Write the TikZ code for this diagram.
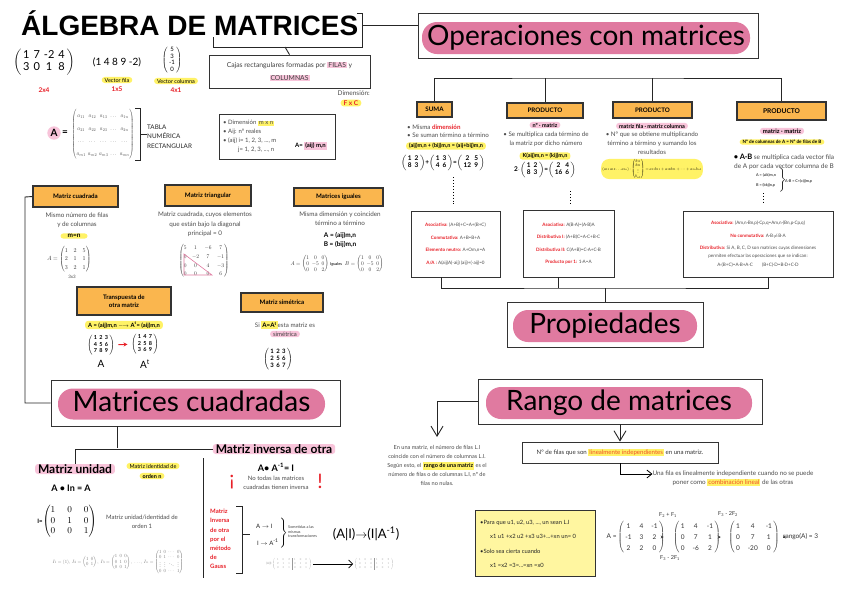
\documentclass[tikz,border=0pt]{standalone}
\usepackage{amsmath}
\usepackage{fontspec}
\setmainfont{Lato}
\newfontfamily\titlefont{Liberation Sans}
\usetikzlibrary{arrows.meta,positioning}

\definecolor{topicpink}{RGB}{224,122,160}
\definecolor{hipink}{RGB}{248,196,218}
\definecolor{hiyellow}{RGB}{255,242,102}
\definecolor{tagorange}{RGB}{250,182,78}
\definecolor{redtxt}{RGB}{232,32,40}
\definecolor{hlred}{RGB}{240,80,40}
\definecolor{noteyellow}{RGB}{255,246,160}

\newcommand\sz[2]{\fontsize{#1}{#2}\selectfont}
\newcommand\hly[1]{{\setlength\fboxsep{1pt}\colorbox{hiyellow}{#1}}}
\newcommand\hlp[1]{{\setlength\fboxsep{1pt}\colorbox{hipink}{#1}}}
\newcommand\lab[1]{\textcolor{redtxt}{\bfseries #1}}
\newcommand\tmat[3][2pt]{$\left(\,\setlength\tabcolsep{#1}\begin{tabular}{@{}#2@{}}#3\end{tabular}\,\right)$}
\newcommand\rbr[1]{$\left.\vrule height #1 depth #1 width 0pt\right\}$}

\tikzset{
  boxline/.style={draw=black!80, line width=0.8pt, fill=white, inner sep=2pt},
  topic/.style={fill=topicpink, rounded corners=15pt, font=\sz{28}{30},
    text height=20pt, text depth=6pt, inner sep=0pt},
  tag/.style={draw=black!80, line width=1.1pt, fill=tagorange, align=center,
    font=\bfseries\sz{6.2}{8}, inner sep=1pt},
  txt/.style={font=\sz{6.2}{8.8}, text=black!70, align=center, inner sep=0pt},
  hy/.style={fill=hiyellow, rounded corners=3pt, inner xsep=3pt, inner ysep=1pt},
  hp/.style={fill=hipink, rounded corners=3pt, inner xsep=3pt, inner ysep=1pt},
  lbl/.style={font=\bfseries\sz{6.5}{8}, text=redtxt, inner sep=0pt},
  prop/.style={boxline, align=center, font=\sz{4.6}{12.5}, text=black!70, inner sep=3pt},
  link/.style={draw=black!85, line width=0.9pt},
  bigarr/.style={draw=black!85, line width=0.9pt, -{Straight Barb[length=10pt,width=12pt]}},
  arr/.style={-{Straight Barb[length=5pt,width=8pt]}, line width=0.8pt},
  garr/.style={-{Stealth[length=3pt,width=3pt]}, line width=0.5pt, draw=black!75}
}

\begin{document}
\begin{tikzpicture}[x=1pt, y=-1pt]
  \useasboundingbox[fill=white] (0,0) rectangle (848,600);

  % title and definition
  \node[font=\titlefont\bfseries\sz{28}{30}, anchor=base west, inner sep=0pt] (title) at (21,35) {ÁLGEBRA DE MATRICES};
  \draw[link] (357,13) -- (362,13) -- (362,47) -- (213,47) -- (213,37);
  \coordinate (tbr) at (362,25);
  \coordinate (tbot) at (285,47);

  \node[boxline, minimum width=161, minimum height=33, align=center, font=\sz{6.8}{13}, text=black!75, inner sep=0pt] (cajas) at (289.5,71.5)
    {Cajas rectangulares formadas por \hlp{FILAS} y\\\hlp{COLUMNAS}};
  \draw[link] (tbot) -- (cajas.north);
  \node[txt, anchor=east, font=\sz{6.5}{8}] (dimlbl) at (370,93) {Dimensión:};
  \node[hy, text=redtxt, font=\bfseries\sz{6.5}{8}] (fxc) at (351,103) {F x C};

  \node[font=\sz{11}{12}] (m24) at (44,62) {\tmat{cccc}{1&7&-2&4\\3&0&1&8}};
  \node[lbl] (d24) at (44,90) {2x4};
  \node[font=\sz{10}{11}] (vf) at (117,62) {(1 4 8 9 -2)};
  \node[hy, font=\sz{5.5}{7}] (vfl) at (117,80) {Vector fila};
  \node[lbl, below=3pt of vfl] (d15) {1x5};
  \node[font=\sz{6}{6.5}] (vc) at (172,60) {\tmat{c}{5\\3\\-1\\0}};
  \node[hy, font=\sz{5.5}{7}] (vcl) at (176,81) {Vector columna};
  \node[lbl, below=3pt of vcl] (d41) {4x1};

  \node[circle, fill=hipink, inner sep=1.2pt, font=\bfseries\sz{10}{11}] (aname) at (54,133) {A};
  \node[font=\bfseries\sz{10}{11}, right=0pt of aname, inner sep=1pt] (aeq) {=};
  \node[font=\sz{10}{21}, text=black!70, xscale=0.54, yscale=0.6] (amat) at (103,134)
    {\setlength\arraycolsep{2pt}$\begin{pmatrix}a_{11}&a_{12}&a_{13}&\dots&a_{1n}\\a_{21}&a_{22}&a_{23}&\dots&a_{2n}\\\dots&\dots&\dots&\dots&\dots\\a_{m1}&a_{m2}&a_{m3}&\dots&a_{mn}\end{pmatrix}$};
  \draw[link, line width=0.7pt] (135,108) -- (140,108) -- (140,160) -- (135,160);
  \coordinate (abr) at (140,134);
  \node[anchor=west, font=\sz{6.3}{9.5}, align=left, text=black!85, inner sep=0pt] (tabla) at (147,136.5) {TABLA\\NUMÉRICA\\RECTANGULAR};
  \draw[link, line width=0.7pt] (abr) -- (tabla.west |- abr);

  \node[boxline, minimum width=116, minimum height=45] (dimbox) at (277,136.5) {};
  \node[txt, anchor=west, font=\sz{6}{8}] (d1) at (223,123) {• Dimensión \hly{m x n}};
  \node[txt, anchor=west, font=\sz{6}{8}] (d2) at (223,132) {• Aij: nº reales};
  \node[txt, anchor=west, font=\sz{6}{8}] (d3) at (223,141) {• (aij) i= 1, 2, 3, ..., m};
  \node[txt, anchor=west, font=\sz{6}{8}] (d4) at (238,150) {j= 1, 2, 3, ..., n};
  \node[font=\bfseries\sz{6}{8}, inner sep=0pt] (aform) at (311,146) {A= \hlp{(aij) m,n}};

  % operaciones
  \node[boxline, minimum width=340, minimum height=45] (opsbox) at (588,35.5) {};
  \node[topic, minimum width=328, minimum height=32] (ops) at (586,38) {Operaciones con matrices};
  \draw[link] (tbr) -- (tbr -| opsbox.west);

  \node[tag, minimum width=35, minimum height=15] (suma) at (434.5,109.5) {SUMA};
  \node[tag, minimum width=76, minimum height=15] (p2) at (545,110.5) {PRODUCTO};
  \node[tag, minimum width=79, minimum height=16] (p3) at (652.5,110) {PRODUCTO};
  \node[tag, minimum width=89, minimum height=18, font=\bfseries\sz{6.6}{8}] (p4) at (781.5,111) {PRODUCTO};
  \coordinate (opsfork) at (588,78);
  \draw[link] (suma.north) |- (opsfork) -| (p4.north);
  \draw[link] (p2.north) -- (p2.north |- opsfork);
  \draw[link] (p3.north) -- (p3.north |- opsfork);

  \node[txt, anchor=west] (s1) at (407,127) {• Misma \lab{dimensión}};
  \node[txt, anchor=west] (s2) at (407,135) {• Se suman término a término};
  \node[hy, font=\bfseries\sz{5.5}{7}] (s3) at (446,146) {(aij)m,n + (bij)m,n = (aij+bij)m,n};
  \node[font=\bfseries\sz{6.5}{7}] (s4) at (443,163) {\tmat[1.5pt]{cc}{1&2\\8&3}+\tmat[1.5pt]{cc}{1&3\\4&6}=\tmat[1.5pt]{cc}{2&5\\12&9}};

  \node[hp, font=\bfseries\sz{5.5}{7}] (q1) at (545,125) {nº · matriz};
  \node[txt] (q2) at (546,139) {• Se multiplica cada término de\\la matriz por dicho número};
  \node[hy, font=\bfseries\sz{5.5}{7}] (q3) at (545,156) {K(aij)m,n = (kij)m,n};
  \node[font=\bfseries\sz{6.5}{7}] (q4) at (545,170) {2$\cdot$\tmat[1.5pt]{cc}{1&2\\8&3}=\tmat[1.5pt]{cc}{2&4\\16&6}};

  \node[hp, font=\bfseries\sz{5.5}{7}] (r1) at (652,126) {matriz fila · matriz columna};
  \node[txt] (r2) at (652,143) {• Nº que se obtiene multiplicando\\término a término y sumando los\\resultados};
  \node[hy, font=\sz{10}{10}, scale=0.4, rounded corners=8pt] (r3) at (652,169)
    {$(a_{11}\,a_{12}\dots a_{1n})\cdot\begin{pmatrix}b_{11}\\b_{21}\\\vdots\\b_{n1}\end{pmatrix}=a_{11}b_{11}+a_{12}b_{21}+\dots+a_{1n}b_{n1}$};

  \node[hp, font=\bfseries\sz{6}{7}] (t1) at (782,131) {matriz · matriz};
  \node[hy, font=\bfseries\sz{4.6}{5}] (t2) at (782,142) {Nº de columnas de A = Nº de filas de B};
  \node[txt, font=\sz{6.5}{9}] (t3) at (784,161.5) {{\color{black}\bfseries\sz{7.5}{9}• A·B} se multiplica cada vector fila\\de A por cada vector columna de B};
  \node[font=\bfseries\sz{3.8}{10}, text=black!75, align=left, inner sep=0pt] (t4) at (766,180) {A = (aik)m,n\\B = (bkj)n,p};
  \node[inner sep=0pt] (tbrace) at (782,180) {\rbr{9pt}};
  \node[font=\bfseries\sz{3.8}{5}, anchor=west, text=black!75, inner sep=0pt] (t5) at (785,181) {A·B = C=(cij)m,p};

  % propiedades
  \node[prop, minimum width=89, minimum height=66] (pr1) at (455.5,244)
    {\lab{Asociativa:} (A+B)+C=A+(B+C)\\\lab{Conmutativa:} A+B=B+A\\\lab{Elemento neutro:} A+Om,n=A\\\lab{A/A :} A(aij)A(-aij) (aij)+(-aij)=0};
  \node[prop, minimum width=91, minimum height=67] (pr2) at (568.5,243.5)
    {\lab{Asociativa:} A(B·A)=(A·B)A\\\lab{Distributiva I:} (A+B)C=A·C+B·C\\\lab{Distributiva II:} C(A+B)=C·A+C·B\\\lab{Producto por 1:} 1·A=A};
  \node[prop, minimum width=150, minimum height=66, font=\sz{4.6}{8.5}] (pr3) at (758,244)
    {\lab{Asociativa:} (Am,n·Bn,p)·Cp,q=Am,n·(Bn,p·Cp,q)\\[4.5pt]\lab{No conmutativa:} A·B$\neq$B·A\\[3.5pt]\lab{Distributiva:} Si A, B, C, D son matrices cuyas dimensiones\\permiten efectuar las operaciones que se indican:\\A·(B+C)=A·B+A·C\qquad(B+C)·D=B·D+C·D};

  \draw[dotted, line width=0.9pt, shorten <=3pt, shorten >=6pt] ([xshift=10]s4.south) -- ([xshift=10]s4.south |- pr1.north);
  \draw[dotted, line width=0.9pt, shorten <=10pt, shorten >=6pt] ([xshift=25]q4.south) -- ([xshift=25]q4.south |- pr2.north);
  \draw[dotted, line width=0.9pt, shorten <=6pt, shorten >=6pt] ([xshift=-3]t4.south) -- ([xshift=-3]t4.south |- pr3.north);

  \node[boxline, minimum width=196, minimum height=45] (propbox) at (605,324.5) {};
  \node[topic, minimum width=184, minimum height=32] (props) at (605,326) {Propiedades};
  \coordinate (propfork) at (605,288);
  \draw[link] (propbox.north) -- (propfork);
  \draw[link] ([xshift=-14]pr1.south) |- (propfork) -| ([xshift=10]pr3.south);
  \draw[link] ([xshift=-10]pr2.south) -- ([xshift=-10]pr2.south |- propfork);

  % tipos de matrices
  \node[tag, minimum width=85, minimum height=21] (cuad) at (75.5,196.5) {Matriz cuadrada};
  \node[tag, minimum width=86, minimum height=21] (tri) at (208,195.5) {Matriz triangular};
  \node[tag, minimum width=89, minimum height=18] (igu) at (338.5,197) {Matrices iguales};
  \node[tag, minimum width=94, minimum height=28] (trans) at (124,301) {Transpuesta de\\otra matriz};
  \node[tag, minimum width=82, minimum height=19] (sim) at (282,302.5) {Matriz simétrica};

  \node[txt, font=\sz{6.3}{9.5}] (c1) at (77,220) {Mismo número de filas\\y de columnas};
  \node[hy, font=\bfseries\sz{6.5}{8}, minimum width=27] (c2) at (74,236) {m=n};
  \node[font=\sz{10}{14}, text=black!80, scale=0.6] (c3) at (69,259) {\setlength\arraycolsep{5pt}$A=\begin{pmatrix}1&2&5\\2&1&1\\3&2&1\end{pmatrix}$};
  \node[txt, font=\sz{4.5}{5}] (c4) at (72,277) {3x3};

  \node[txt, font=\sz{6.3}{9.5}] (tr1) at (205,224.5) {Matriz cuadrada, cuyos elementos\\que están bajo la diagonal\\principal = 0};
  \node[font=\sz{10}{16}, text=black!80, scale=0.55] (tr2) at (204,261) {\setlength\arraycolsep{5pt}$\begin{pmatrix}5&1&-6&7\\0&-2&7&-1\\0&0&4&-3\\0&0&0&6\end{pmatrix}$};
  \draw[topicpink, line width=0.6pt] (184,254) -- (184,275) -- (212,275) -- cycle;

  \node[txt, font=\sz{6.3}{9}] (ig1) at (340,218.5) {Misma dimensión y coinciden\\término a término};
  \node[font=\bfseries\sz{6.5}{9}, align=center, inner sep=0pt] (ig2) at (340,240.5) {A = (aij)m,n\\B = (bij)m,n};
  \node[font=\sz{10}{11}, text=black!80, scale=0.55] (ig3) at (337,264)
    {\setlength\arraycolsep{2.5pt}$A=\begin{pmatrix}1&0&0\\0&-5&0\\0&0&2\end{pmatrix}$ {\bfseries\sz{7}{8}Iguales} \ $B=\begin{pmatrix}1&0&0\\0&-5&0\\0&0&2\end{pmatrix}$};

  \node[hy, font=\bfseries\sz{5.8}{7}] (tp1) at (124,325) {A = (aij)m,n {\sz{4}{5}$\longrightarrow$} A\textsuperscript{t}= (aij)m,n};
  \node[font=\bfseries\sz{5.5}{6.5}] (tpA) at (101,345) {\tmat[1.2pt]{ccc}{1&2&3\\4&5&6\\7&8&9}};
  \node[font=\bfseries\sz{5.5}{6.5}] (tpB) at (145,344) {\tmat[1.2pt]{ccc}{1&4&7\\2&5&8\\3&6&9}};
  \draw[-{Stealth[length=4pt,width=4pt]}, draw=redtxt, line width=1pt] (tpA) -- (tpB);
  \node[font=\sz{10}{11}] (tpAl) at (101,364) {A};
  \node[font=\sz{10}{11}] (tpBl) at (145,364) {A\textsuperscript{t}};

  \node[txt] (sm1) at (285,325) {Si \hly{\bfseries\color{black}A=A\textsuperscript{t}}esta matriz es};
  \node[hp, font=\sz{6}{7}, text=black!75] (sm2) at (285,334) {simétrica};
  \node[font=\bfseries\sz{6}{7}] (sm3) at (278,359) {\tmat[1.2pt]{ccc}{1&2&3\\2&5&6\\3&6&7}};

  % matrices cuadradas
  \node[boxline, minimum width=289, minimum height=46] (mcbox) at (195.5,403) {};
  \node[topic, minimum width=267, minimum height=31] (mc) at (191.5,404) {Matrices cuadradas};
  \coordinate (spine) at (25,197);
  \draw[link] (cuad.west) -- (spine) |- (mcbox.west);

  \node[hp, font=\bfseries\sz{12}{13}, inner ysep=0.5pt] (unidad) at (75,469) {Matriz unidad};
  \node[hp, font=\bfseries\sz{12}{13}, inner ysep=0.5pt] (inversa) at (274,449) {Matriz inversa de otra};
  \coordinate (mcfork) at (117,448);
  \draw[link] (mcfork |- mcbox.south) -- (mcfork);
  \draw[link] (unidad.north) |- (inversa.west);
  \draw[link] (203,458) -- (203,578);

  \node[hy, font=\sz{5.5}{6.5}] (idn1) at (153,466) {Matriz identidad de};
  \node[hy, font=\bfseries\sz{5.5}{6.5}] (idn2) at (152,476) {orden n};
  \node[font=\bfseries\sz{9}{10}] (ainn) at (71,488) {A • In = A};
  \node[font=\sz{9}{10.5}] (imat) at (67,521) {\setlength\arraycolsep{6pt}{\bfseries\sz{6}{7}I=}$\begin{pmatrix}1&0&0\\0&1&0\\0&0&1\end{pmatrix}$};
  \node[txt, font=\sz{6}{9}] (imtx) at (142,522) {Matriz unidad/identidad de\\orden 1};
  \node[font=\sz{10}{11}, text=black!55, scale=0.47] (iser) at (118,562)
    {\setlength\arraycolsep{2.5pt}$I_1=(1),\ I_2=\begin{pmatrix}1&0\\0&1\end{pmatrix},\ I_3=\begin{pmatrix}1&0&0\\0&1&0\\0&0&1\end{pmatrix},\ \dots,\ I_n=\begin{pmatrix}1&0&\cdots&0\\0&1&\cdots&0\\\vdots&\vdots&\ddots&\vdots\\0&0&\cdots&1\end{pmatrix}$};

  \node[font=\bfseries\sz{9}{10}] (aainv) at (276,467) {A• A\textsuperscript{-1}= I};
  \node[txt, font=\sz{6}{9}] (nota) at (276,482.5) {No todas las matrices\\cuadradas tienen inversa};
  \node[text=redtxt, font=\sz{20}{20}, inner sep=0pt] (exl) at (232,482) {¡};
  \node[text=redtxt, font=\sz{20}{20}, inner sep=0pt] (exr) at (320,481) {!};

  \node[text=redtxt, font=\bfseries\sz{6}{9.2}, align=left, anchor=west, inner sep=0pt] (gauss) at (210,539) {Matriz\\Inversa\\de otra\\por el\\método\\de\\Gauss};
  \draw[link, line width=1pt] (236,506) -- (242,506) -- (242,573) -- (236,573);
  \draw[link, line width=1pt] (242,534) -- (250,534);
  \node[font=\sz{6}{7}, text=black!85, anchor=west, inner sep=0pt] (ai1) at (256,526) {A $\rightarrow$ I};
  \node[font=\sz{6}{7}, text=black!85, anchor=west, inner sep=0pt] (ai2) at (257,542) {I $\rightarrow$ A\textsuperscript{-1}};
  \node[inner sep=0pt] (ibrace) at (283,533) {\rbr{13pt}};
  \node[font=\sz{3.8}{4.6}, text=black!75, align=left, anchor=west, inner sep=0pt] (trf) at (288,532) {Sometidas a las\\mismas\\transformaciones};
  \node[font=\sz{13}{14}, inner sep=0pt] (aiia) at (366,534) {(A|I)$\rightarrow$(I|A\textsuperscript{-1})};

  \node[font=\sz{10}{13}, text=black!40, scale=0.3] (gm1) at (289,564)
    {(A|I)\ \setlength\arraycolsep{7pt}$\left(\begin{array}{ccc|ccc}1&0&2&1&0&0\\2&1&1&0&1&0\\0&3&1&0&0&1\end{array}\right)$};
  \node[font=\sz{10}{13}, text=black!40, scale=0.3] (gm2) at (374,564)
    {\setlength\arraycolsep{7pt}$\left(\begin{array}{ccc|ccc}1&0&0&1&0&2\\0&1&0&1&1&1\\0&0&1&0&0&1\end{array}\right)$};
  \draw[-{Straight Barb[length=4pt,width=8pt]}, line width=0.8pt] (gm1) -- (gm2);

  % rango
  \node[boxline, minimum width=284, minimum height=45] (rgbox) at (620,401.5) {};
  \node[topic, minimum width=266, minimum height=32] (rango) at (619,403) {Rango de matrices};
  \node[txt, font=\sz{5.6}{9.1}] (rgtxt) at (437,465.5)
    {En una matriz, el número de filas L.I\\coincide con el número de columnas L.I.\\Según esto, el \hly{\bfseries\color{black}rango de una matriz} es el\\número de filas o de columnas L.I, nº de\\filas no nulas.};
  \node[boxline, minimum width=196, minimum height=21, font=\sz{6.1}{7}, text=black!80, inner sep=1pt] (defbox) at (620,452.5)
    {Nº de filas que son \hly{\color{hlred}linealmente independientes} en una matriz.};
  \coordinate (rgtip) at (437,437);
  \draw[bigarr] (rgbox.west) -| (rgtip);
  \draw[bigarr] (rgbox.south) -- (defbox.north);
  \node[txt, font=\sz{6.3}{8.8}] (una) at (733,478.5)
    {Una fila es linealmente independiente cuando no se puede\\poner como \hly{\color{hlred}combinación lineal} de las otras};
  \draw[arr] (defbox.south) |- ([yshift=4.5pt]una.west);

  \node[boxline, fill=noteyellow, minimum width=120, minimum height=66] (libox) at (535,543) {};
  \node[font=\sz{5.8}{14.6}, text=black!85, align=left, anchor=west, inner sep=0pt] (litxt) at (480,544)
    {•Para que u1, u2, u3, ..., un sean L.I\\\hspace*{10pt}x1 u1 +x2 u2 +x3 u3+...+xn un= 0\\•Solo sea cierta cuando\\\hspace*{10pt}x1 =x2 =3=...=xn =x0};

  \node[font=\sz{6.5}{11}, text=black!80] (gA) at (636,537) {A =\,\tmat[4pt]{ccc}{1&4&-1\\-1&3&2\\2&2&0}};
  \node[font=\sz{6.5}{11}, text=black!80] (gB) at (697,537) {\tmat[4pt]{ccc}{1&4&-1\\0&7&1\\0&-6&2}};
  \node[font=\sz{6.5}{11}, text=black!80] (gC) at (754,537) {\tmat[4pt]{ccc}{1&4&-1\\0&7&1\\0&-20&0}};
  \node[font=\sz{6.5}{8}, text=black!80, anchor=west, inner sep=0pt] (grank) at (783,537) {rango(A) = 3};
  \node[font=\sz{5.5}{6}, text=black!80] (f1) at (668,515) {F\textsubscript{2} + F\textsubscript{1}};
  \node[font=\sz{5.5}{6}, text=black!80] (f2) at (670,558) {F\textsubscript{3} - 2F\textsubscript{1}};
  \node[font=\sz{5.5}{6}, text=black!80] (f3) at (728,514) {F\textsubscript{3} - 2F\textsubscript{2}};
  \draw[garr, shorten <=6pt, shorten >=6pt] (gA) -- (gB);
  \draw[garr, shorten <=4pt, shorten >=4pt] (gB) -- (gC);
  \draw[garr] (gC) -- (grank);
\end{tikzpicture}
\end{document}
